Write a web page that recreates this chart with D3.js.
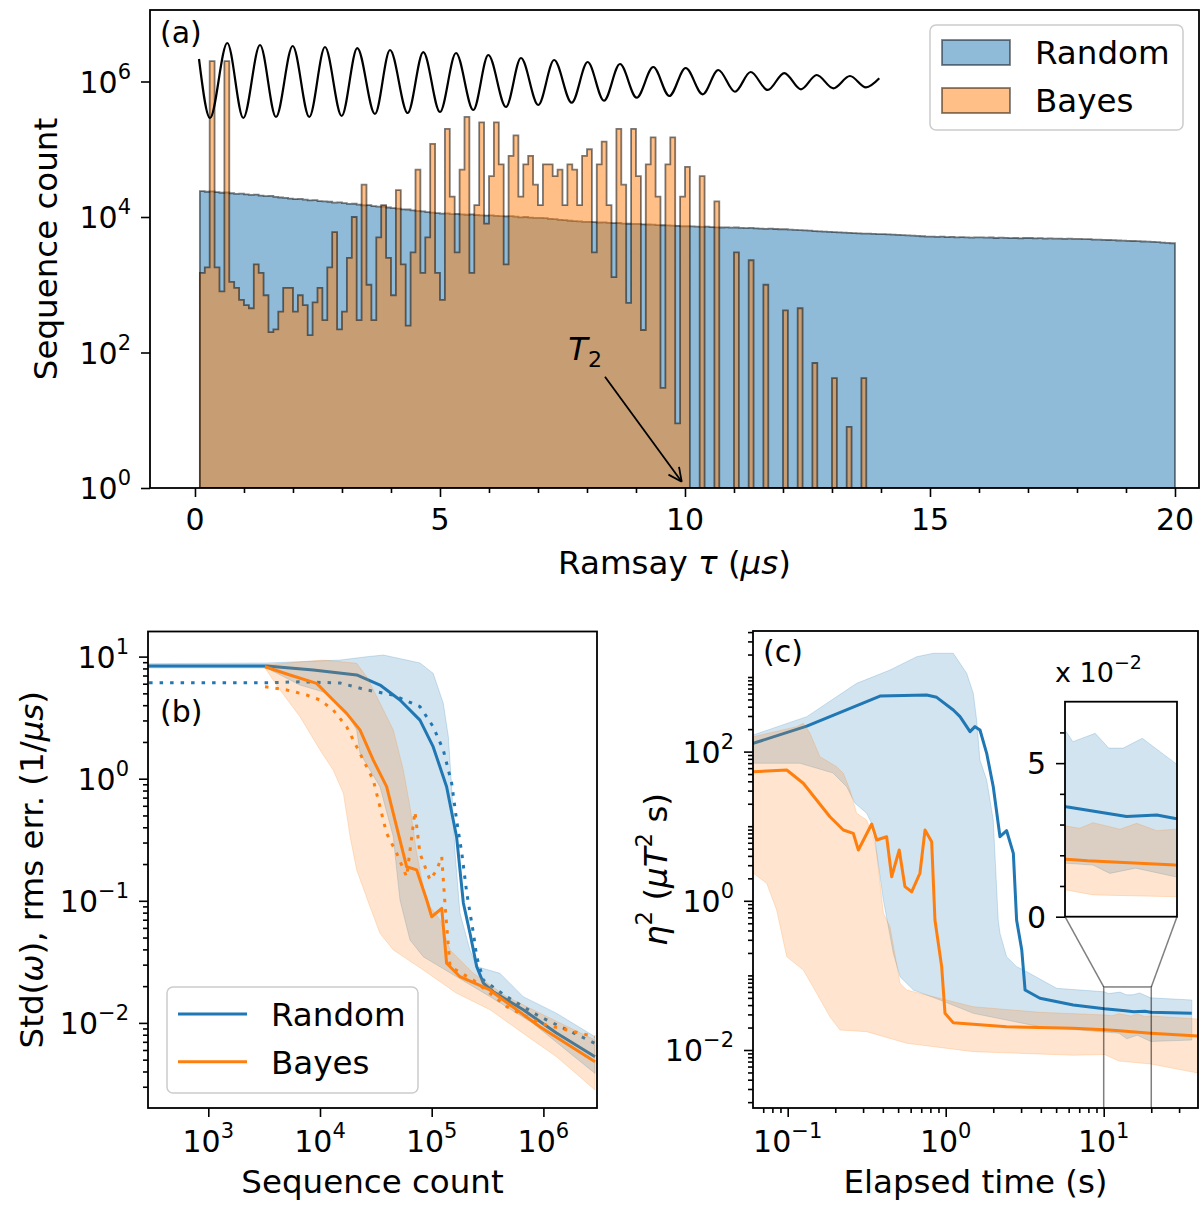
<!DOCTYPE html>
<html><head><meta charset="utf-8">
<script src="https://cdn.jsdelivr.net/npm/d3@7/dist/d3.min.js"></script>
<style>html,body{margin:0;padding:0;background:#fff}svg{display:block}text{font-family:"DejaVu Sans",sans-serif;fill:#000}</style>
</head><body>
<svg id="fig" width="1202" height="1205"></svg>
<script>
// ================= DATA =================
// Panel (a): histogram of Ramsay delays, bins of 0.1 us starting at 0.1 us
const binStart = 0.1, binWidth = 0.1;
const randomCounts = [
 24100,23600,23900,23300,22800,23000,22400,21900,22100,
 21600,21200,21400,20700,20300,20500,19800,19400,19100,18700,
 18400,18500,18000,17600,17700,17200,17000,16800,16300,16400,
 16000,15600,15700,15200,14900,15000,14500,14200,14300,13800,
 13500,13300,13000,12900,12500,12300,12100,11800,11600,11400,
 11200,11300,11000,11100,10900,10800,10900,10700,10600,10500,
 10600,10400,10300,10200,10300,10100,9900,10000,9800,9700,
 9700,9600,9400,9300,9100,9000,8800,8700,8600,8500,
 8500,8400,8300,8350,8200,8100,8150,8000,7950,7900,
 7900,7800,7750,7700,7600,7550,7500,7450,7400,7300,
 7300,7250,7200,7150,7200,7100,7050,7000,7050,6950,
 7000,6900,6850,6900,6800,6750,6700,6750,6650,6600,
 6600,6500,6450,6400,6350,6300,6200,6150,6100,6050,
 6000,5950,5900,5850,5800,5750,5700,5700,5650,5600,
 5600,5550,5500,5450,5400,5350,5300,5250,5200,5150,
 5150,5100,5150,5050,5100,5000,5050,5000,4950,5000,
 5000,4950,4980,4900,4950,4920,4880,4900,4850,4900,
 4900,4850,4870,4800,4830,4780,4800,4760,4780,4750,
 4750,4700,4720,4650,4620,4600,4580,4550,4500,4470,
 4450,4420,4400,4350,4330,4300,4250,4200,4150,4100];
const bayesCounts = [
 1500,1800,2000000,1800,800,2000000,1100,900,600,500,
 450,2000,1500,700,200,220,400,900,900,400,
 700,500,180,550,900,300,1800,6000,220,400,
 2500,10000,300,30000,1000,300,5000,15000,2500,700,
 25000,2000,250,3000,50000,1500,5000,120000,1500,600,
 200000,20000,3000,50000,300000,1500,15000,250000,8000,40000,
 250000,60000,2000,80000,160000,20000,60000,80000,30000,15000,
 60000,60000,40000,50000,15000,60000,50000,15000,80000,100000,
 3000,60000,130000,15000,1300,200000,30000,540,200000,40000,
 215,60000,150000,20000,30,60000,150000,9,20000,55000,
 0,0,40000,0,0,17000,0,0,0,3000,
 0,0,2300,0,0,1000,0,0,0,420,
 0,0,450,0,0,70,0,0,0,42,
 0,0,8,0,0,42];
// Ramsey fringe (extrema): tau (us), log10(count)
const fringeTau = [0.082,0.306,0.659,0.986,1.327,1.653,1.994,2.333,2.653,2.994,3.312,3.673,3.98,4.341,4.659,5.0,5.327,5.68,5.986,6.347,6.653,7.006,7.33,7.688,8.014,8.347,8.673,9.014,9.353,9.68,10.014,10.361,10.68,11.02,11.34,11.688,12.027,12.367,12.688,13.027,13.367,13.694,13.965];
const fringeLog = [6.332,5.461,6.568,5.461,6.539,5.476,6.524,5.476,6.509,5.491,6.494,5.52,6.465,5.535,6.435,5.55,6.421,5.579,6.391,5.624,6.347,5.653,6.317,5.687,6.288,5.716,6.258,5.761,6.214,5.786,6.199,5.811,6.17,5.849,6.14,5.875,6.125,5.885,6.096,5.9,6.081,5.914,6.047];
const t2Text = [7.62, 77.5], t2From = [8.367, 44], t2To = [9.933, 1.24];
const aXTicks = [0,5,10,15,20];
const aXMinor = [1,2,3,4,6,7,8,9,11,12,13,14,16,17,18,19];
const aYTicks = [1,1e2,1e4,1e6], aYLabels = ['0','2','4','6'];

// Panel (b): Std / rms error vs sequence count
const bRandomMean = [[100,8.38],[3330,8.38],[8710,7.77],[21300,7.07],[34500,5.85],[52000,4.41],[78500,3.02],[1.03e5,1.83],[1.36e5,0.86],[1.67e5,0.335],[1.92e5,0.096],[2.2e5,0.0545],[2.53e5,0.0289],[2.9e5,0.0212],[3.56e5,0.018],[6.6e5,0.0128],[1.31e6,0.00826],[2.9e6,0.00528]];
const bRandomRms = [[100,6.11],[3330,6.11],[6620,6.22],[15100,6.08],[26200,5.33],[45100,4.85],[78500,3.89],[1.03e5,2.67],[1.27e5,1.72],[1.51e5,0.916],[1.67e5,0.459],[1.86e5,0.246],[2.06e5,0.116],[2.36e5,0.0545],[2.53e5,0.0348],[2.9e5,0.0224],[4.69e5,0.0164],[9.3e5,0.01125],[2.9e6,0.0068]];
const bBayesMean = [[3220,8.26],[5380,7.07],[9330,6.04],[13100,4.41],[17300,3.43],[22800,2.51],[30000,1.42],[39500,0.86],[45300,0.521],[55700,0.245],[59700,0.19],[73400,0.179],[90200,0.1015],[1.0e5,0.074],[1.23e5,0.0868],[1.36e5,0.0308],[1.79e5,0.0239],[3.32e5,0.0186],[9.3e5,0.0093],[2.9e6,0.0048]];
const bBayesRms = [[3220,5.66],[5040,5.33],[7600,4.85],[10000,4.41],[13100,3.66],[17300,2.67],[22800,1.61],[30000,0.975],[34400,0.59],[39500,0.357],[48600,0.245],[59700,0.157],[70800,0.537],[78500,0.245],[96600,0.148],[1.11e5,0.179],[1.23e5,0.23],[1.32e5,0.0896],[1.46e5,0.0289],[2.36e5,0.0224],[4.69e5,0.0136],[9.3e5,0.0099],[2.9e6,0.0077]];
const bRandomBandUpper = [[100,8.7],[3330,8.87],[15100,9.37],[26200,9.98],[36900,10.3],[59700,9.37],[78600,8.87],[1.03e5,7.3],[1.27e5,4.15],[1.41e5,2.21],[1.51e5,0.86],[1.62e5,0.246],[1.79e5,0.0795],[2.2e5,0.0396],[2.53e5,0.0289],[4.08e5,0.0255],[6.6e5,0.0164],[1.31e6,0.012],[2.9e6,0.0077]];
const bRandomBandLower = [[100,8.07],[3330,8.07],[6620,5.85],[11500,5.03],[17300,3.45],[21300,2.51],[22800,1.62],[28000,1.18],[34400,0.86],[45300,0.335],[48600,0.179],[52000,0.1016],[63900,0.0478],[84100,0.0348],[1.67e5,0.0239],[3.33e5,0.0164],[8.1e5,0.0099],[2.9e6,0.00386]];
const bBayesBandUpper = [[3220,8.54],[10600,9.37],[21300,8.81],[26200,6.84],[34400,4.17],[45300,2.51],[55700,1.18],[63900,0.59],[73400,0.245],[84100,0.130],[96600,0.0896],[1.19e5,0.0697],[1.46e5,0.0396],[2.36e5,0.0255],[4.69e5,0.0164],[9.33e5,0.012],[2.9e6,0.00724]];
const bBayesBandLower = [[3220,8.07],[4390,5.32],[6620,3.22],[10000,1.72],[13100,1.18],[16200,0.759],[18600,0.335],[21300,0.179],[28000,0.0896],[34400,0.0542],[45300,0.0396],[84100,0.0271],[1.67e5,0.0175],[3.33e5,0.0128],[6.6e5,0.0082],[1.31e6,0.00528],[2.9e6,0.00282]];
const bXTicks = [1e3,1e4,1e5,1e6], bXLabels = ['3','4','5','6'];
const bYTicks = [1e-2,1e-1,1,10], bYLabels = ['\u22122','\u22121','0','1'];

// Panel (c): eta^2 vs elapsed time
const cRandomMean = [[0.0605,129],[0.132,220],[0.384,556],[0.758,574],[0.877,534],[1.117,361],[1.232,294],[1.425,185],[1.532,216],[1.648,195],[1.817,94.9],[2.0,33.8],[2.206,7.23],[2.43,8.7],[2.68,4.33],[2.81,0.553],[3.03,0.219],[3.18,0.0637],[3.95,0.0493],[6.42,0.0401],[10.1,0.0358],[13.7,0.0337],[15.5,0.0326],[18.2,0.0331],[19.85,0.032],[36.1,0.031]];
const cBayesMean = [[0.0605,53.8],[0.0986,56.7],[0.1255,37.6],[0.185,13.4],[0.225,8.89],[0.26,8.03],[0.28,4.8],[0.34,10.7],[0.366,6.53],[0.423,7.23],[0.455,2.1],[0.508,4.8],[0.552,1.55],[0.609,1.32],[0.687,2.34],[0.74,8.89],[0.815,6.2],[0.855,0.553],[0.943,0.131],[0.99,0.031],[1.117,0.0232],[2.43,0.0205],[6.42,0.0195],[10.1,0.0187],[12,0.0182],[19.85,0.0168],[39.7,0.0154]];
const cRandomBandUpper = [[0.0605,167],[0.132,294],[0.273,822],[0.444,1240],[0.655,1870],[0.835,2080],[1.117,2080],[1.358,1120],[1.495,604],[1.57,265],[1.648,77.1],[1.817,41.6],[2.0,12.1],[2.15,0.553],[2.206,0.367],[2.43,0.178],[2.81,0.131],[3.26,0.112],[5.04,0.0671],[10.1,0.0603],[10.7,0.057],[12.7,0.0597],[13.9,0.0549],[15.2,0.0549],[16.9,0.0581],[19.85,0.050],[36.1,0.0468]];
const cRandomBandLower = [[0.0605,69.7],[0.1197,69.7],[0.1935,51.7],[0.236,33.9],[0.267,20.3],[0.316,14.9],[0.348,9.85],[0.366,4.37],[0.403,1.03],[0.466,0.198],[0.514,0.096],[0.624,0.0637],[0.92,0.0468],[1.495,0.031],[3.95,0.0205],[10.1,0.0174],[12.5,0.0168],[14.0,0.0141],[16.3,0.0158],[19.85,0.013],[36.1,0.0136]];
const cBayesBandUpper = [[0.0605,158],[0.114,216],[0.1255,239],[0.1384,176],[0.16,85.5],[0.204,62.8],[0.225,51.2],[0.248,30.5],[0.273,14.9],[0.316,12.1],[0.348,7.23],[0.366,4.33],[0.403,0.686],[0.444,0.45],[0.514,0.0784],[0.567,0.0637],[0.758,0.0546],[1.495,0.038],[3.95,0.032],[10.1,0.0295],[11.3,0.0288],[12.5,0.0306],[14.9,0.0285],[16.4,0.0304],[18.2,0.028],[19.85,0.0285],[39.5,0.026]];
const cBayesBandLower = [[0.0605,2.34],[0.0736,1.72],[0.0851,0.753],[0.0986,0.178],[0.1255,0.118],[0.1526,0.0575],[0.185,0.0279],[0.2143,0.0185],[0.316,0.0176],[0.567,0.0123],[1.495,0.0095],[6.42,0.0085],[10.1,0.0087],[12.5,0.0071],[19.85,0.0065],[39.7,0.0049]];
const cXTicks = [0.1,1,10], cXLabels = ['\u22121','0','1'];
const cYTicks = [1e-2,1,1e2], cYLabels = ['\u22122','0','2'];
const insetX = [10,20], insetY = [0,0.07];
const insetYTicks = [0,0.05], insetYLabels = ['0','5'];
const insetYMinor = [0.01,0.02,0.03,0.04,0.06];

// ================= DRAWING =================
const C0 = '#1f77b4', C1 = '#ff7f0e';
const TICKF = 30, LABF = 32.5;
const svg = d3.select('#fig');
svg.append('rect').attr('width',1202).attr('height',1205).attr('fill','#fff');
const defs = svg.append('defs');
function clip(id,x0,y0,x1,y1){defs.append('clipPath').attr('id',id).append('rect').attr('x',x0).attr('y',y0).attr('width',x1-x0).attr('height',y1-y0);}
function logMinors(lo,hi){const r=[];for(let e=Math.floor(Math.log10(lo))-1;e<=Math.ceil(Math.log10(hi));e++){for(let k=1;k<=9;k++){const v=k*Math.pow(10,e);if(v>=lo*0.999&&v<=hi*1.001)r.push(v);}}return r;}
function notIn(list){return v=>!list.some(t=>Math.abs(t-v)/t<1e-6);}
function axisX(scale,y,majors,minors){
  [[majors,9],[minors,5]].forEach(([vals,len])=>{
    const g=svg.append('g').attr('transform',`translate(0,${y})`)
      .call(d3.axisBottom(scale).tickValues(vals).tickSize(len).tickSizeOuter(0).tickFormat(''));
    g.select('.domain').remove();
    g.selectAll('line').attr('stroke','#000').attr('stroke-width',1.6);
  });
}
function axisY(scale,x,majors,minors){
  [[majors,9],[minors,5]].forEach(([vals,len])=>{
    const g=svg.append('g').attr('transform',`translate(${x},0)`)
      .call(d3.axisLeft(scale).tickValues(vals).tickSize(len).tickSizeOuter(0).tickFormat(''));
    g.select('.domain').remove();
    g.selectAll('line').attr('stroke','#000').attr('stroke-width',1.6);
  });
}
function powText(x,y,exp,anchor){
  const t=svg.append('text').attr('x',x).attr('y',y).attr('text-anchor',anchor).attr('font-size',TICKF);
  t.append('tspan').text('10');
  t.append('tspan').attr('dy',-14).attr('font-size',TICKF*0.7).text(exp);
  return t;
}
function frame(x0,y0,x1,y1){svg.append('rect').attr('x',x0).attr('y',y0).attr('width',x1-x0).attr('height',y1-y0).attr('fill','none').attr('stroke','#000').attr('stroke-width',1.8);}

// ---------- Panel (a) ----------
const A = {x0:150,x1:1199,y0:10,y1:488};
const xA = d3.scaleLinear().domain([-0.918,20.49]).range([A.x0,A.x1]);
const yA = d3.scaleLog().domain([1,1.136e7]).range([A.y1,A.y0]);
clip('clipA',A.x0,A.y0,A.x1,A.y1);
function histPath(counts){
  const b=A.y1; let p=`M${xA(binStart)},${b}`;
  counts.forEach((v,i)=>{const yy=v>1?yA(v):b;p+=`L${xA(binStart+i*binWidth)},${yy}L${xA(binStart+(i+1)*binWidth)},${yy}`;});
  return p+`L${xA(binStart+counts.length*binWidth)},${b}Z`;
}
const gA = svg.append('g').attr('clip-path','url(#clipA)');
gA.append('path').attr('d',histPath(randomCounts)).attr('fill',C0).attr('fill-opacity',0.5).attr('stroke','#000').attr('stroke-opacity',0.5).attr('stroke-width',1.8).attr('stroke-linejoin','miter');
gA.append('path').attr('d',histPath(bayesCounts)).attr('fill',C1).attr('fill-opacity',0.5).attr('stroke','#000').attr('stroke-opacity',0.5).attr('stroke-width',1.8).attr('stroke-linejoin','miter');
const fringe = fringeTau.map((t,i)=>[t,Math.pow(10,fringeLog[i])]);
gA.append('path').attr('d',d3.line().x(d=>xA(d[0])).y(d=>yA(d[1])).curve(d3.curveMonotoneX)(fringe)).attr('fill','none').attr('stroke','#000').attr('stroke-width',2.2);
// T2 annotation
{
  const t=svg.append('text').attr('x',xA(t2Text[0])).attr('y',yA(t2Text[1])).attr('font-size',32);
  t.append('tspan').attr('font-style','italic').text('T');
  t.append('tspan').attr('dy',7).attr('font-size',22).text('2');
  const fx=xA(t2From[0]),fy=yA(t2From[1]),tx=xA(t2To[0]),ty=yA(t2To[1]);
  svg.append('line').attr('x1',fx).attr('y1',fy).attr('x2',tx).attr('y2',ty).attr('stroke','#000').attr('stroke-width',1.8);
  const ang=Math.atan2(ty-fy,tx-fx);
  [0.45,-0.45].forEach(a=>{svg.append('line').attr('x1',tx).attr('y1',ty).attr('x2',tx-15*Math.cos(ang+a)).attr('y2',ty-15*Math.sin(ang+a)).attr('stroke','#000').attr('stroke-width',1.8);});
}
frame(A.x0,A.y0,A.x1,A.y1);
axisX(xA,A.y1,aXTicks,aXMinor);
axisY(yA,A.x0,aYTicks,[]);
aXTicks.forEach(v=>svg.append('text').attr('x',xA(v)).attr('y',530).attr('text-anchor','middle').attr('font-size',TICKF).text(v));
aYTicks.forEach((v,i)=>powText(A.x0-19,yA(v)+11,aYLabels[i],'end'));
svg.append('text').attr('x',160).attr('y',43).attr('font-size',30).text('(a)');
{
  const t=svg.append('text').attr('x',(A.x0+A.x1)/2).attr('y',574).attr('text-anchor','middle').attr('font-size',LABF);
  t.append('tspan').text('Ramsay ');t.append('tspan').attr('font-style','italic').text('\u03c4');
  t.append('tspan').text(' (');t.append('tspan').attr('font-style','italic').text('\u03bcs');t.append('tspan').text(')');
}
svg.append('text').attr('transform',`translate(57,${(A.y0+A.y1)/2}) rotate(-90)`).attr('text-anchor','middle').attr('font-size',LABF).text('Sequence count');
// legend (a)
svg.append('rect').attr('x',930).attr('y',25).attr('width',253).attr('height',105).attr('rx',6).attr('fill','#fff').attr('fill-opacity',0.8).attr('stroke','#ccc').attr('stroke-width',1.5);
[[C0,'Random',40],[C1,'Bayes',88]].forEach(([c,n,y])=>{
  svg.append('rect').attr('x',942).attr('y',y).attr('width',68).attr('height',25).attr('fill',c).attr('fill-opacity',0.5).attr('stroke','#000').attr('stroke-opacity',0.5).attr('stroke-width',1.8);
  svg.append('text').attr('x',1035).attr('y',y+24).attr('font-size',LABF).text(n);
});

// ---------- Panel (b) ----------
const B = {x0:148,x1:597,y0:631.5,y1:1108};
const xB = d3.scaleLog().domain([Math.pow(10,2.4602),Math.pow(10,6.4799)]).range([B.x0,B.x1]);
const yB = d3.scaleLog().domain([Math.pow(10,-2.697),Math.pow(10,1.2056)]).range([B.y1,B.y0]);
clip('clipB',B.x0,B.y0,B.x1,B.y1);
const gB = svg.append('g').attr('clip-path','url(#clipB)');
const lineB = d3.line().x(d=>xB(d[0])).y(d=>yB(d[1]));
function band(g,line,up,lo,c){g.append('path').attr('d',line(up.concat(lo.slice().reverse()))+'Z').attr('fill',c).attr('fill-opacity',0.2).attr('stroke',c).attr('stroke-opacity',0.2).attr('stroke-width',1);}
function ln(g,line,d,c,dotted){const p=g.append('path').attr('d',line(d)).attr('fill','none').attr('stroke',c).attr('stroke-width',3).attr('stroke-linejoin','round');if(dotted)p.attr('stroke-dasharray','3.5,7');}
band(gB,lineB,bRandomBandUpper,bRandomBandLower,C0);
ln(gB,lineB,bRandomMean,C0,false);
ln(gB,lineB,bRandomRms,C0,true);
band(gB,lineB,bBayesBandUpper,bBayesBandLower,C1);
ln(gB,lineB,bBayesMean,C1,false);
ln(gB,lineB,bBayesRms,C1,true);
frame(B.x0,B.y0,B.x1,B.y1);
axisX(xB,B.y1,bXTicks,[]);
axisY(yB,B.x0,bYTicks,logMinors(yB.domain()[0],yB.domain()[1]).filter(notIn(bYTicks)));
bXTicks.forEach((v,i)=>powText(xB(v),1152,bXLabels[i],'middle'));
bYTicks.forEach((v,i)=>powText(B.x0-19,yB(v)+11,bYLabels[i],'end'));
svg.append('text').attr('x',160).attr('y',722).attr('font-size',30).text('(b)');
svg.append('text').attr('x',(B.x0+B.x1)/2).attr('y',1193).attr('text-anchor','middle').attr('font-size',LABF).text('Sequence count');
{
  const t=svg.append('text').attr('transform',`translate(43,${(B.y0+B.y1)/2}) rotate(-90)`).attr('text-anchor','middle').attr('font-size',LABF);
  t.append('tspan').text('Std(');t.append('tspan').attr('font-style','italic').text('\u03c9');
  t.append('tspan').text('), rms err. (1/');t.append('tspan').attr('font-style','italic').text('\u03bcs');t.append('tspan').text(')');
}
svg.append('rect').attr('x',167).attr('y',987).attr('width',251).attr('height',106).attr('rx',6).attr('fill','#fff').attr('fill-opacity',0.8).attr('stroke','#ccc').attr('stroke-width',1.5);
[[C0,'Random',1014],[C1,'Bayes',1061.7]].forEach(([c,n,y])=>{
  svg.append('line').attr('x1',178).attr('x2',247).attr('y1',y).attr('y2',y).attr('stroke',c).attr('stroke-width',3);
  svg.append('text').attr('x',271).attr('y',y+12).attr('font-size',LABF).text(n);
});

// ---------- Panel (c) ----------
const Cc = {x0:753,x1:1198,y0:631,y1:1108};
const xC = d3.scaleLog().domain([Math.pow(10,-1.2196),Math.pow(10,1.5968)]).range([Cc.x0,Cc.x1]);
const yC = d3.scaleLog().domain([Math.pow(10,-2.7775),Math.pow(10,3.6166)]).range([Cc.y1,Cc.y0]);
clip('clipC',Cc.x0,Cc.y0,Cc.x1,Cc.y1);
const gC = svg.append('g').attr('clip-path','url(#clipC)');
const lineC = d3.line().x(d=>xC(d[0])).y(d=>yC(d[1]));
band(gC,lineC,cRandomBandUpper,cRandomBandLower,C0);
ln(gC,lineC,cRandomMean,C0,false);
band(gC,lineC,cBayesBandUpper,cBayesBandLower,C1);
ln(gC,lineC,cBayesMean,C1,false);
// inset indicator
const rx0=xC(insetX[0]),rx1=xC(insetX[1]),ry=yC(insetY[1]);
gC.append('rect').attr('x',rx0).attr('y',ry).attr('width',rx1-rx0).attr('height',Cc.y1+20-ry).attr('fill','none').attr('stroke','#000').attr('stroke-opacity',0.5).attr('stroke-width',1.5);
frame(Cc.x0,Cc.y0,Cc.x1,Cc.y1);
axisX(xC,Cc.y1,cXTicks,logMinors(xC.domain()[0],xC.domain()[1]).filter(notIn(cXTicks)));
axisY(yC,Cc.x0,cYTicks,logMinors(yC.domain()[0],yC.domain()[1]).filter(notIn(cYTicks)));
cXTicks.forEach((v,i)=>powText(xC(v),1152,cXLabels[i],'middle'));
cYTicks.forEach((v,i)=>powText(Cc.x0-19,yC(v)+11,cYLabels[i],'end'));
svg.append('text').attr('x',763).attr('y',662).attr('font-size',30).text('(c)');
svg.append('text').attr('x',(Cc.x0+Cc.x1)/2).attr('y',1193).attr('text-anchor','middle').attr('font-size',LABF).text('Elapsed time (s)');
{
  const t=svg.append('text').attr('transform',`translate(667,${(Cc.y0+Cc.y1)/2}) rotate(-90)`).attr('text-anchor','middle').attr('font-size',LABF);
  t.append('tspan').attr('font-style','italic').text('\u03b7');
  t.append('tspan').attr('dy',-15).attr('font-size',LABF*0.7).text('2');
  t.append('tspan').attr('dy',15).text(' (');
  t.append('tspan').attr('font-style','italic').text('\u03bcT');
  t.append('tspan').attr('dy',-15).attr('font-size',LABF*0.7).text('2');
  t.append('tspan').attr('dy',15).text(' s)');
}
// inset
const I = {x0:1065,x1:1177,y0:701.7,y1:916.7};
const xI = d3.scaleLinear().domain(insetX).range([I.x0,I.x1]);
const yI = d3.scaleLinear().domain(insetY).range([I.y1,I.y0]);
svg.append('line').attr('x1',rx0).attr('y1',ry).attr('x2',I.x0).attr('y2',I.y1).attr('stroke','#000').attr('stroke-opacity',0.5).attr('stroke-width',1.5);
svg.append('line').attr('x1',rx1).attr('y1',ry).attr('x2',I.x1).attr('y2',I.y1).attr('stroke','#000').attr('stroke-opacity',0.5).attr('stroke-width',1.5);
svg.append('rect').attr('x',I.x0).attr('y',I.y0).attr('width',I.x1-I.x0).attr('height',I.y1-I.y0).attr('fill','#fff');
clip('clipI',I.x0,I.y0,I.x1,I.y1);
const gI = svg.append('g').attr('clip-path','url(#clipI)');
const lineI = d3.line().x(d=>xI(d[0])).y(d=>yI(d[1]));
band(gI,lineI,cRandomBandUpper,cRandomBandLower,C0);
ln(gI,lineI,cRandomMean,C0,false);
band(gI,lineI,cBayesBandUpper,cBayesBandLower,C1);
ln(gI,lineI,cBayesMean,C1,false);
frame(I.x0,I.y0,I.x1,I.y1);
axisY(yI,I.x0,insetYTicks,insetYMinor);
insetYTicks.forEach((v,i)=>svg.append('text').attr('x',I.x0-19).attr('y',yI(v)+11).attr('text-anchor','end').attr('font-size',TICKF).text(insetYLabels[i]));
{
  const t=svg.append('text').attr('x',1055).attr('y',682).attr('font-size',27);
  t.append('tspan').text('x 10');
  t.append('tspan').attr('dy',-13).attr('font-size',19).text('\u22122');
}
</script>
</body></html>
